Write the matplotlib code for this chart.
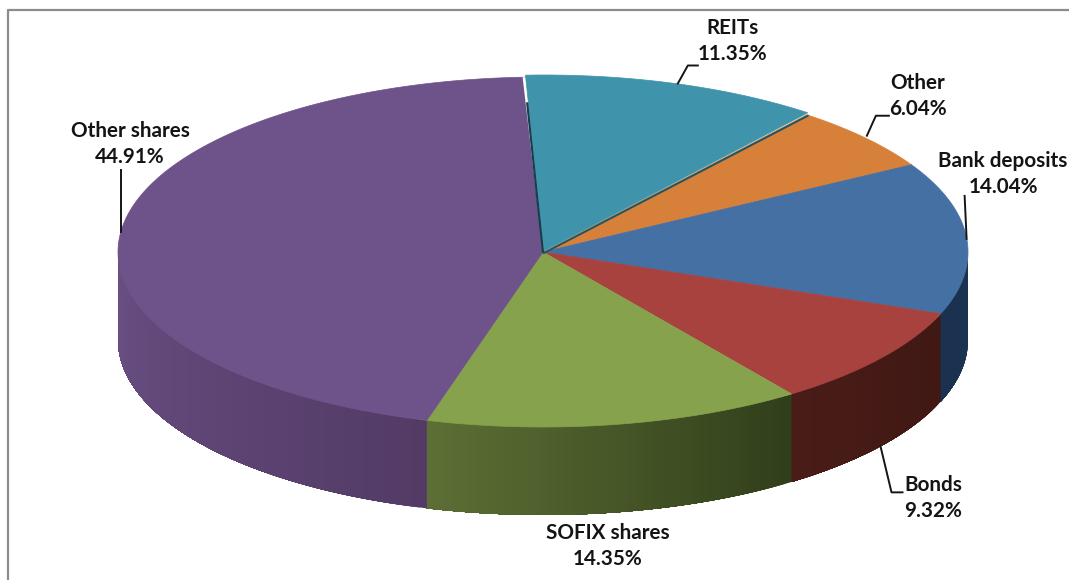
import numpy as np
import matplotlib
matplotlib.use("Agg")
import matplotlib.pyplot as plt
from matplotlib.colors import to_rgb

labels = ["REITs", "Other", "Bank deposits", "Bonds", "SOFIX shares", "Other shares"]
values = [11.35, 6.04, 14.04, 9.32, 14.35, 44.91]

top_colors = ["#3f93ab", "#d6803a", "#4570a4", "#a8423f", "#87a24d", "#6d5389"]
# wall colour at start and end of each slice (clockwise)
wall_colors = [("#000000", "#000000"), ("#000000", "#000000"), ("#1b3350", "#1a3250"),
               ("#401814", "#4a1c17"), ("#303e1a", "#5d7035"), ("#533b66", "#6a5085")]

# pixel layout of the pie
cx, cy = 543, 252
rx, ry = 425, 175
depth = 88
start_angle = -2.5

label_xy = [(733, 41), (918, 96), (1003, 174), (933, 498), (608, 546), (130, 144)]
# leader bends, as offsets from the slice's rim point
leaders = [[(4, -2), (14, -20), (24, -20)],
           [(2, -2), (11, -22), (24, -22)],
           [(0, 1), (-2, -42)],
           [(0, 0), (11, 46), (22, 46)],
           None,
           [(0, 0), (0, -62)]]


def rim(theta, r=1.0):
    t = np.radians(theta)
    return cx + r * rx * np.sin(t), cy - r * ry * np.cos(t)


fig = plt.figure(figsize=(10.69, 5.80), dpi=100)
ax = fig.add_axes([0, 0, 1, 1])
ax.set_xlim(0, 1069)
ax.set_ylim(580, 0)
ax.axis("off")

# frame
ax.plot([8, 8, 1069], [580, 10, 10], color="#8c8c8c", lw=1.6, solid_capstyle="butt")

edges = start_angle + np.concatenate([[0], np.cumsum(values)]) * 3.6

# side walls, each band painted to the end of the slice so no seams show
for i in range(len(values)):
    a0 = max(edges[i], 90)
    a1 = min(edges[i + 1], 270)
    if a1 <= a0:
        continue
    c0 = np.array(to_rgb(wall_colors[i][0]))
    c1 = np.array(to_rgb(wall_colors[i][1]))
    steps = np.arange(a0, a1, 1.0)
    for a in steps:
        th = np.linspace(a, a1, 60)
        x, y = rim(th)
        f = (a - a0) / (a1 - a0)
        col = c0 + (c1 - c0) * f
        ax.fill(np.r_[x, x[::-1]], np.r_[y, y[::-1] + depth], color=col, lw=0)

# top faces, REITs last because it is pulled out a little
for i in [1, 2, 3, 4, 5]:
    th = np.linspace(edges[i], edges[i + 1], 200)
    x, y = rim(th)
    ax.fill(np.r_[cx, x], np.r_[cy, y], color=top_colors[i], lw=0.5, ec=top_colors[i])

th = np.linspace(edges[0], edges[1], 100)
x, y = rim(th)
# white gap and dark edge under the pulled out slice
gx, gy = rim(np.array([edges[0] - 0.25, edges[0] + 1.0]))
ax.fill([cx, gx[0], gx[1]], [cy, gy[0], gy[1]], color="white", lw=0)
ex, ey = rim(edges[0], 0.85)
ax.plot([cx, ex], [cy, ey], color="#17404f", lw=1.6)
ax.plot([cx + 1, x[-1] + 1], [cy + 1, y[-1] + 1], color="#1f5566", lw=1.4)
ax.fill(np.r_[cx + 1, x + 1], np.r_[cy - 1, y - 2], color=top_colors[0], lw=0.5, ec=top_colors[0])

# labels and leader lines
for i in range(len(values)):
    txt = f"{labels[i]}\n{values[i]:.2f}%"
    ax.text(label_xy[i][0], label_xy[i][1], txt, ha="center", va="center", family="Lato",
            weight="bold", fontsize=14.9, color="#141414", linespacing=1.39)
    if leaders[i] is None:
        continue
    mid = (edges[i] + edges[i + 1]) / 2
    mx, my = rim(mid)
    if labels[i] == "Bonds":
        my += depth
    pts = np.array(leaders[i], dtype=float)
    ax.plot(mx + pts[:, 0], my + pts[:, 1], color="#151515", lw=1.4, solid_joinstyle="round")

fig.savefig("out.png", dpi=100)
